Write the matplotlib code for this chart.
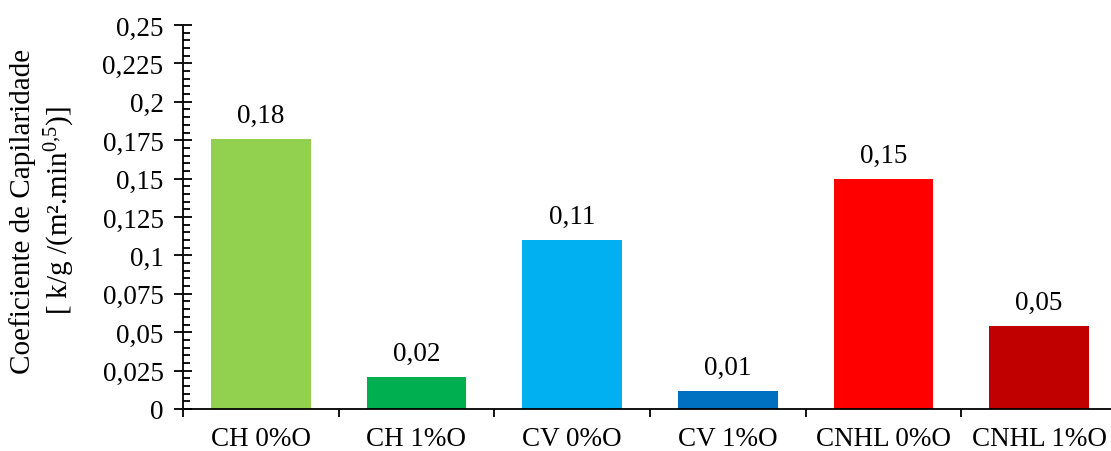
import matplotlib
matplotlib.use("Agg")
import matplotlib.pyplot as plt
from matplotlib.ticker import MultipleLocator, FixedLocator, NullFormatter, FixedFormatter

# Capillarity coefficient per mix
categories = ["CH 0%O", "CH 1%O", "CV 0%O", "CV 1%O", "CNHL 0%O", "CNHL 1%O"]
values = [0.176, 0.021, 0.110, 0.012, 0.150, 0.054]
colors = ["#92D050", "#00B050", "#00B0F0", "#0070C0", "#FF0000", "#C00000"]
y_ticks = [0, 0.025, 0.05, 0.075, 0.1, 0.125, 0.15, 0.175, 0.2, 0.225, 0.25]
y_tick_labels = ["0", "0,025", "0,05", "0,075", "0,1", "0,125", "0,15", "0,175", "0,2", "0,225", "0,25"]

plt.rcParams["font.family"] = ["Liberation Serif", "DejaVu Serif"]
plt.rcParams["mathtext.fontset"] = "custom"
plt.rcParams["mathtext.rm"] = "Liberation Serif"
plt.rcParams["mathtext.it"] = "Liberation Serif:italic"

FS = 19.5

W, H = 1111, 452
fig = plt.figure(figsize=(W / 100, H / 100), dpi=100)
ax = fig.add_axes([183 / W, 1 - 410 / H, (1117 - 183) / W, (410 - 26) / H])

x = list(range(len(categories)))
ax.bar(x, values, width=0.64, color=colors, zorder=2)

for xi, v in zip(x, values):
    ax.annotate(f"{v:.2f}".replace(".", ","), (xi, v), xytext=(0, 12),
                textcoords="offset points", ha="center", va="baseline", fontsize=FS)

ax.set_xlim(-0.5, len(categories) - 0.5)
ax.set_ylim(0, 0.25)

# y axis: major ticks crossing the spine, minor ticks inside
ax.yaxis.set_major_locator(FixedLocator(y_ticks))
ax.yaxis.set_major_formatter(FixedFormatter(y_tick_labels))
ax.yaxis.set_minor_locator(MultipleLocator(0.005))
ax.tick_params(axis="y", which="major", direction="inout", length=13, width=1.3,
               labelsize=FS, pad=7.5)
ax.tick_params(axis="y", which="minor", direction="in", length=5, width=1.3)

# x axis: ticks at category boundaries, labels at category centres
ax.xaxis.set_major_locator(FixedLocator([i - 0.5 for i in range(len(categories) + 1)]))
ax.xaxis.set_major_formatter(NullFormatter())
ax.xaxis.set_minor_locator(FixedLocator(x))
ax.xaxis.set_minor_formatter(FixedFormatter(categories))
ax.tick_params(axis="x", which="major", direction="out", length=6, width=1.3)
ax.tick_params(axis="x", which="minor", length=0, labelsize=FS, pad=12)

for side in ("top", "right"):
    ax.spines[side].set_visible(False)
for side in ("left", "bottom"):
    ax.spines[side].set_linewidth(1.3)

fig.text(43 / W, 1 - 211 / H,
         "Coeficiente de Capilaridade\n[ k/g /(m².min$^{0{,}5}$)]",
         rotation=90, ha="center", va="center", fontsize=21,
         multialignment="center", linespacing=1.3)

fig.savefig("out.png", dpi=100)
